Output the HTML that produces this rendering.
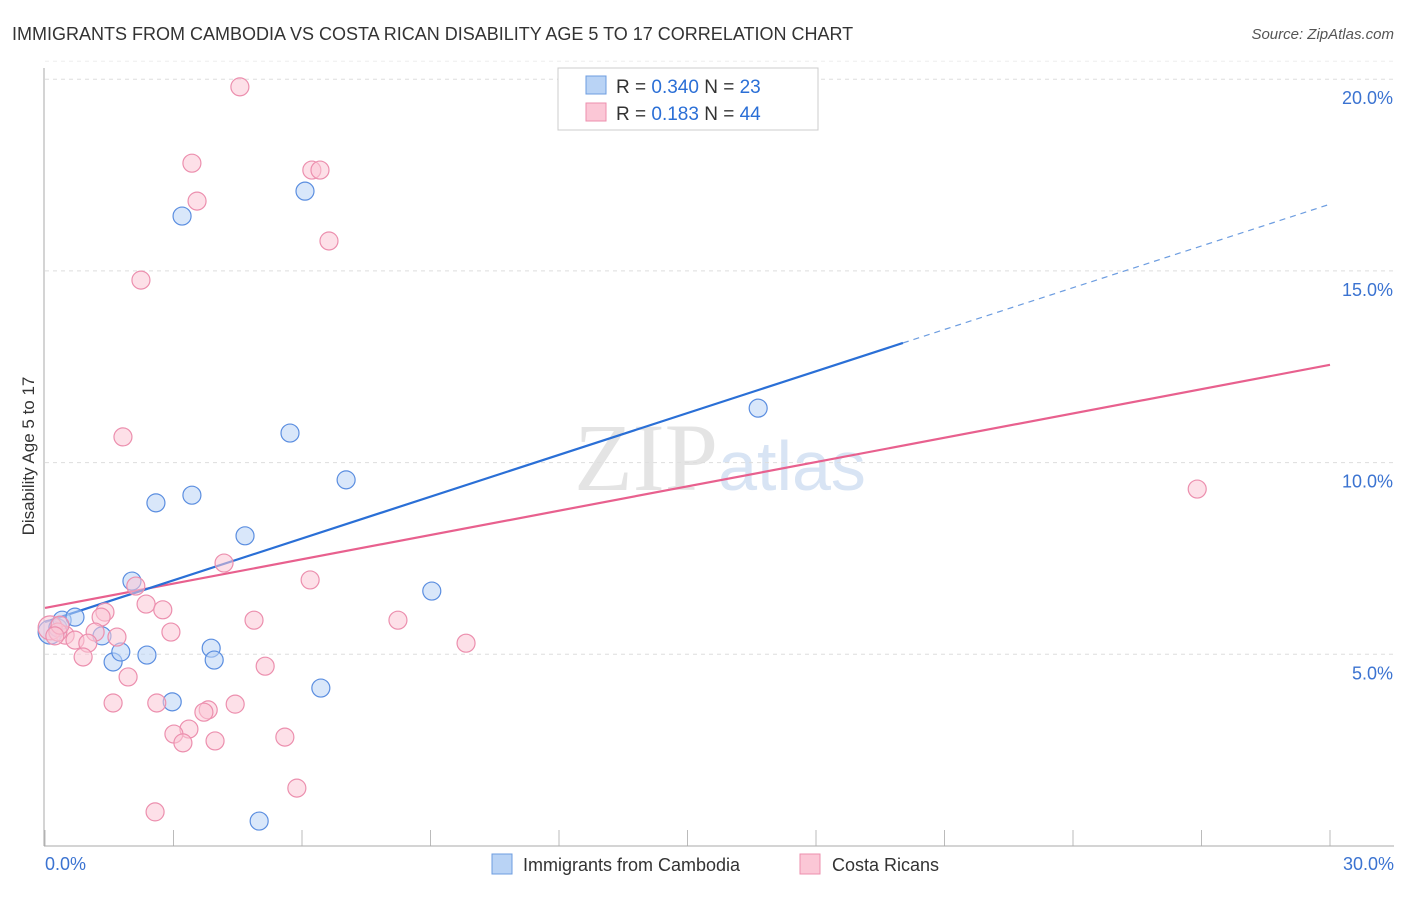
<!DOCTYPE html>
<html><head><meta charset="utf-8"><style>
body{margin:0;background:#fff;font-family:"Liberation Sans",sans-serif;}
</style></head><body>
<svg width="1406" height="892" xmlns="http://www.w3.org/2000/svg" font-family="Liberation Sans, sans-serif">
<text x="12" y="40" font-size="18" fill="#333">IMMIGRANTS FROM CAMBODIA VS COSTA RICAN DISABILITY AGE 5 TO 17 CORRELATION CHART</text>
<text x="1394" y="39" font-size="15" fill="#555" font-style="italic" text-anchor="end">Source: ZipAtlas.com</text>
<text x="720" y="490" font-size="96" fill="#e4e4e4" font-family="Liberation Serif, serif" text-anchor="middle">ZIP<tspan fill="#d8e4f4" font-family="Liberation Sans, sans-serif" font-size="70">atlas</tspan></text>
<g id="grid"></g>
<line x1="44" y1="68" x2="44" y2="846" stroke="#aaa"/>
<line x1="44" y1="846" x2="1394" y2="846" stroke="#aaa"/>
<text transform="translate(34,456) rotate(-90)" font-size="17" fill="#333" text-anchor="middle">Disability Age 5 to 17</text>
<text x="45" y="870" font-size="18" fill="#3b73d1">0.0%</text>
<text x="1394" y="870" font-size="18" fill="#3b73d1" text-anchor="end">30.0%</text>
<g id="lines"></g>
<g id="points"></g>
<g>
<rect x="558" y="68" width="260" height="62" fill="#fff" stroke="#ccc"/>
<rect x="586" y="76" width="20" height="18" fill="#b9d3f5" stroke="#6d9de0"/>
<rect x="586" y="103" width="20" height="18" fill="#fbc7d6" stroke="#ec8fae"/>
<text x="616" y="93" font-size="19" fill="#333">R = <tspan fill="#2b6fd6">0.340</tspan>   N = <tspan fill="#2b6fd6">23</tspan></text>
<text x="616" y="120" font-size="19" fill="#333">R =  <tspan fill="#2b6fd6">0.183</tspan>   N = <tspan fill="#2b6fd6">44</tspan></text>
</g>
<g>
<rect x="492" y="854" width="20" height="20" fill="#b9d3f5" stroke="#6d9de0"/>
<text x="523" y="871" font-size="18" fill="#333">Immigrants from Cambodia</text>
<rect x="800" y="854" width="20" height="20" fill="#fbc7d6" stroke="#ec8fae"/>
<text x="832" y="871" font-size="18" fill="#333">Costa Ricans</text>
</g>
</svg>
<script>
const yTicks=[5,10,15,20];
const xTicks=[0,3,6,9,12,15,18,21,24,27,30];
const blueX=[0.12,0.30,0.40,0.70,1.33,1.59,1.77,2.03,2.38,2.59,2.97,3.20,3.43,3.88,3.95,4.67,5.00,5.72,6.07,6.44,7.03,9.03,16.65];
const blueY=[5.58,5.69,5.89,5.97,5.48,4.80,5.06,6.91,4.98,8.95,3.76,16.43,9.15,5.16,4.85,8.09,0.65,10.77,17.08,4.12,9.55,6.65,11.42];
const pinkX=[4.55,3.43,3.55,6.23,6.42,6.63,2.24,1.82,4.18,6.19,2.12,2.36,2.75,1.40,1.31,4.88,8.24,2.94,1.68,1.17,0.47,0.70,1.00,0.89,9.83,5.14,1.94,1.59,2.61,4.44,3.81,3.71,3.36,3.01,5.60,3.22,3.97,5.88,2.57,26.90,0.12,0.30,0.35,0.23];
const pinkY=[19.80,17.81,16.82,17.63,17.63,15.78,14.76,10.67,7.38,6.94,6.78,6.31,6.16,6.10,5.97,5.89,5.89,5.58,5.45,5.58,5.50,5.37,5.29,4.93,5.29,4.69,4.41,3.73,3.73,3.70,3.55,3.49,3.05,2.92,2.84,2.69,2.74,1.51,0.89,9.31,5.69,5.58,5.76,5.48];
const blueLine=[[0,5.84],[20.03,13.12]];
const blueDash=[[20.03,13.12],[30,16.74]];
const pinkLine=[[0,6.21],[30,12.55]];
const NS="http://www.w3.org/2000/svg";
const X=v=>45+v/30*1285, Y=v=>846-v/5*191.7;
function mk(t,a,p){const e=document.createElementNS(NS,t);for(const k in a)e.setAttribute(k,a[k]);p.appendChild(e);return e;}
const g=document.getElementById('grid');
yTicks.forEach(t=>{
 const l=mk('line',{x1:45,x2:1394,y1:Y(t),y2:Y(t),stroke:'#ddd','stroke-dasharray':'4,4'},g);
 
 
 const tx=mk('text',{x:1393,y:Y(t)+25,'font-size':18,fill:'#3b73d1','text-anchor':'end'},g);tx.textContent=t.toFixed(1)+'%';
 
 
});
mk('line',{x1:45,x2:1394,y1:Y(20)-18,y2:Y(20)-18,stroke:'#eee','stroke-dasharray':'4,4'},g);
xTicks.forEach(t=>{
 const l=mk('line',{x1:X(t),x2:X(t),y1:830,y2:846,stroke:'#bbb'},g);
 
 
});
const L=document.getElementById('lines');
function ln(d,c,w,dash,name){const e=mk('line',{x1:X(d[0][0]),y1:Y(d[0][1]),x2:X(d[1][0]),y2:Y(d[1][1]),stroke:c,'stroke-width':w},L);if(dash)e.setAttribute('stroke-dasharray',dash);
 
 }
ln(pinkLine,'#e8608e',2.2,null,'costa-rican-trendline');
ln(blueLine,'#2a6fd6',2.2,null,'cambodia-trendline');
ln(blueDash,'#6d9de0',1.2,'6,5','cambodia-trendline-extension');
const P=document.getElementById('points');
function pts(xs,ys,fill,stroke,name){xs.forEach((x,i)=>{const r=(x<0.2)?12:9;const c=mk('circle',{cx:X(x),cy:Y(ys[i]),r:r,fill:fill,'fill-opacity':0.55,stroke:stroke,'stroke-width':1.2},P);
 
 });}
pts(blueX,blueY,'#b9d3f5','#5b8ee0','cambodia-point');
pts(pinkX,pinkY,'#fbc7d6','#ec8fae','costa-rican-point');
</script>
</body></html>
